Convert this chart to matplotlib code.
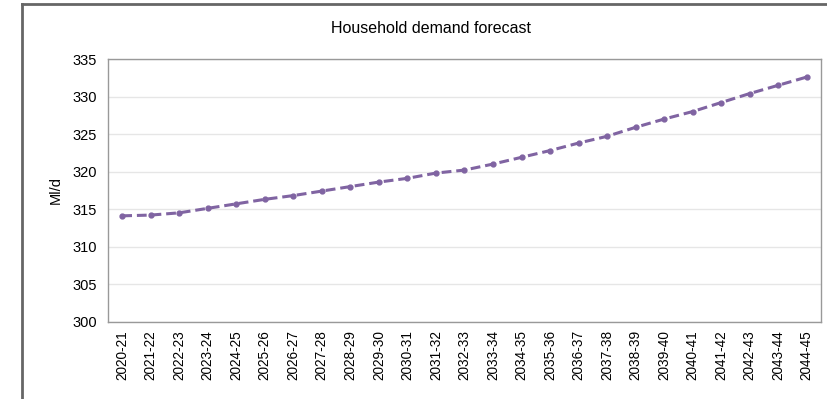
import matplotlib.pyplot as plt
from matplotlib.lines import Line2D

plt.rcParams['font.family'] = ['Liberation Sans', 'DejaVu Sans']

years = ['2020-21', '2021-22', '2022-23', '2023-24', '2024-25', '2025-26', '2026-27',
         '2027-28', '2028-29', '2029-30', '2030-31', '2031-32', '2032-33', '2033-34',
         '2034-35', '2035-36', '2036-37', '2037-38', '2038-39', '2039-40', '2040-41',
         '2041-42', '2042-43', '2043-44', '2044-45']
demand = [314.1, 314.2, 314.5, 315.1, 315.7, 316.3, 316.8, 317.4, 318.0, 318.6,
          319.1, 319.8, 320.2, 321.0, 321.9, 322.8, 323.8, 324.7, 325.9, 327.0,
          328.0, 329.2, 330.4, 331.5, 332.6]
yticks = [300, 305, 310, 315, 320, 325, 330, 335]

fig = plt.figure(figsize=(8.28, 3.99), dpi=100)
ax = fig.add_axes([0.1304, 0.194, 0.8611, 0.658])

# outer chart frame (left and top edges visible)
fig.add_artist(Line2D([0.0266, 0.0266], [0, 0.99], transform=fig.transFigure,
                      color='#666666', lw=2))
fig.add_artist(Line2D([0.0266, 1.0], [0.99, 0.99], transform=fig.transFigure,
                      color='#666666', lw=2))

x = list(range(len(years)))
ax.plot(x, demand, color='#8064A2', lw=2.2, linestyle=(0, (3.2, 1.6)),
        marker='o', markersize=3.5, zorder=3)

ax.set_xlim(-0.5, len(years) - 0.5)
ax.set_ylim(300, 335)
ax.set_yticks(yticks)
ax.set_xticks(x)
ax.set_xticklabels(years, rotation=90, fontsize=9.8)
ax.tick_params(axis='y', labelsize=10.5, length=0, pad=8)
ax.tick_params(axis='x', length=0, pad=6)
ax.grid(axis='y', color='#e6e6e6', lw=1)
ax.set_axisbelow(True)
for s in ax.spines.values():
    s.set_color('#999999')
    s.set_linewidth(1)

ax.set_ylabel('Ml/d', fontsize=10.5, labelpad=7)
fig.text(0.521, 0.928, 'Household demand forecast', ha='center', va='center', fontsize=11.5)

fig.savefig('out.png', dpi=100)
